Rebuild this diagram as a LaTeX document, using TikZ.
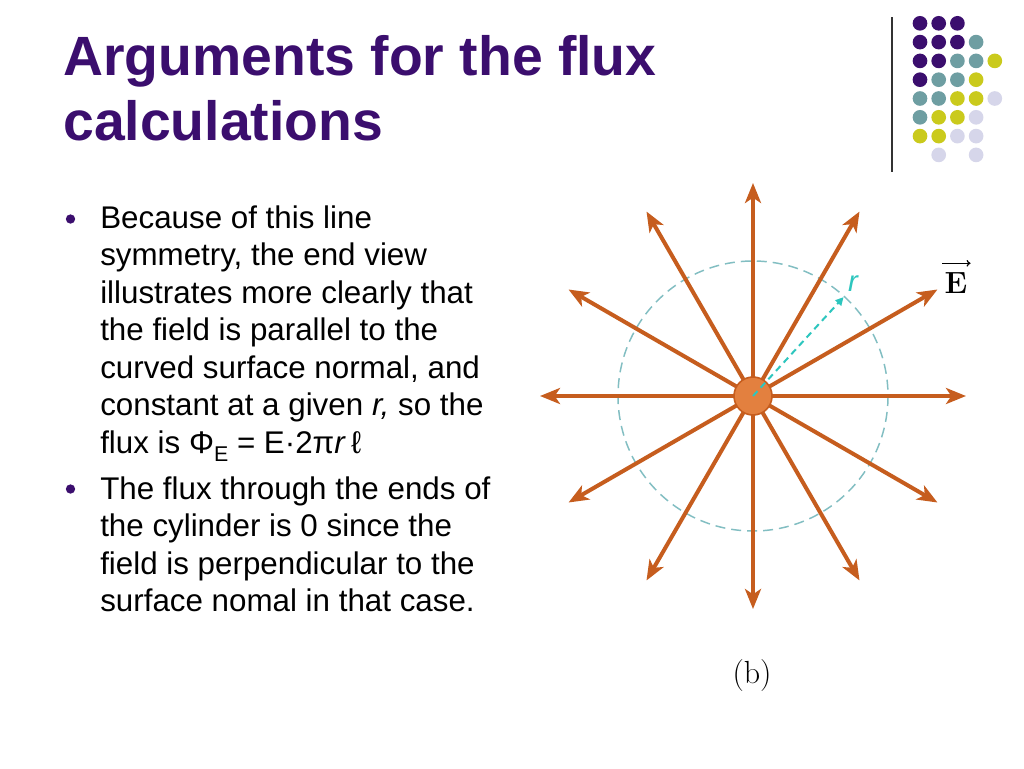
\documentclass[tikz,border=0pt]{standalone}
\usepackage{fontspec}
\newfontfamily\arial{Liberation Sans}
\usetikzlibrary{arrows.meta}
\definecolor{titlepurple}{HTML}{3B0E6E}
\definecolor{dotteal}{HTML}{6E9EA2}
\definecolor{dotyellow}{HTML}{CACA1C}
\definecolor{dotlilac}{HTML}{D6D6EA}
\definecolor{fieldorange}{HTML}{C65D1E}
\definecolor{wirefill}{HTML}{E3803F}
\definecolor{gausscyan}{HTML}{82BEC2}
\definecolor{radiuscyan}{HTML}{2DC6BE}
\newcommand{\subE}{\raisebox{-0.28em}{\fontsize{16}{16}\selectfont E}}
\begin{document}
\begin{tikzpicture}[x=0.75pt,y=-0.75pt,
  heading/.style={anchor=base west,inner sep=0,text=titlepurple,font=\arial\bfseries\fontsize{41.5}{48}\selectfont},
  body/.style={anchor=base west,inner sep=0,font=\arial\fontsize{23.5}{28}\selectfont},
  bulletdot/.style={circle,fill=titlepurple,inner sep=0,minimum size=7pt},
  dot/.style={circle,inner sep=0,minimum size=11pt},
  fieldline/.style={line width=3pt,color=fieldorange,-{Stealth[length=15pt,width=12pt,inset=4pt]}},
  gauss/.style={line width=1.1pt,color=gausscyan,dash pattern=on 7.5pt off 4.5pt},
  radiusline/.style={line width=1.5pt,color=radiuscyan,dash pattern=on 5pt off 3.5pt,-{Triangle[length=6pt,width=6pt]}}]
\fill[white] (0,0) rectangle (1024,768);
\node[heading] (title1) at (63,75) {Arguments for the flux};
\node[heading] (title2) at (63,140) {calculations};
\draw[line width=1.1pt,color=black!80] (892,17) -- (892,172);
\foreach \c/\i/\j in {titlepurple/1/1,titlepurple/2/1,titlepurple/3/1,
  titlepurple/1/2,titlepurple/2/2,titlepurple/3/2,dotteal/4/2,
  titlepurple/1/3,titlepurple/2/3,dotteal/3/3,dotteal/4/3,dotyellow/5/3,
  titlepurple/1/4,dotteal/2/4,dotteal/3/4,dotyellow/4/4,
  dotteal/1/5,dotteal/2/5,dotyellow/3/5,dotyellow/4/5,dotlilac/5/5,
  dotteal/1/6,dotyellow/2/6,dotyellow/3/6,dotlilac/4/6,
  dotyellow/1/7,dotyellow/2/7,dotlilac/3/7,dotlilac/4/7,
  dotlilac/2/8,dotlilac/4/8}
  \node[dot,fill=\c] (d\i\j) at ({920+18.7*(\i-1)},{23.3+18.8*(\j-1)}) {};
\node[bulletdot] (bul1) at (70.5,219) {};
\node[bulletdot] (bul2) at (70.5,489) {};
\foreach \t [count=\k] in {Because of this line,{symmetry, the end view},illustrates more clearly that,the field is parallel to the,{curved surface normal, and},{constant at a given \textit{r,} so the},flux is Φ\subE{} = E·2π\textit{r}\,ℓ}
  \node[body] (la\k) at (100,{228+37.5*(\k-1)}) {\t};
\foreach \t [count=\k] in {The flux through the ends of,the cylinder is 0 since the,field is perpendicular to the,surface nomal in that case.}
  \node[body] (lb\k) at (100,{499+37.5*(\k-1)}) {\t};
\coordinate (axis) at (753,396);
\draw[gauss] (axis) circle [radius=135];
\foreach \a in {0,30,...,330}{
  \path (axis) ++(\a:213) coordinate (tip\a);
  \draw[fieldline] (axis) -- (tip\a);
}
\node[circle,draw=fieldorange,line width=1.2pt,fill=wirefill,inner sep=0,minimum size=28.5pt] (wire) at (axis) {};
\path (axis) ++(-47.5:134) coordinate (rtip);
\draw[radiusline] (wire.center) -- (rtip);
\node[text=radiuscyan,font=\arial\itshape\fontsize{22}{22}\selectfont] (rlabel) at (853,284) {r};
\node[inner sep=0,font=\bfseries\fontsize{23}{23}\selectfont] (Elabel) at (956,283) {E};
\draw[line width=0.9pt,-{To[length=3pt,width=5pt]}] ([shift={(-2,-9)}]Elabel.north west) -- ([shift={(3,-9)}]Elabel.north east);
\node[font=\fontsize{24}{24}\selectfont] (caption) at (752,676) {(b)};
\end{tikzpicture}
\end{document}
